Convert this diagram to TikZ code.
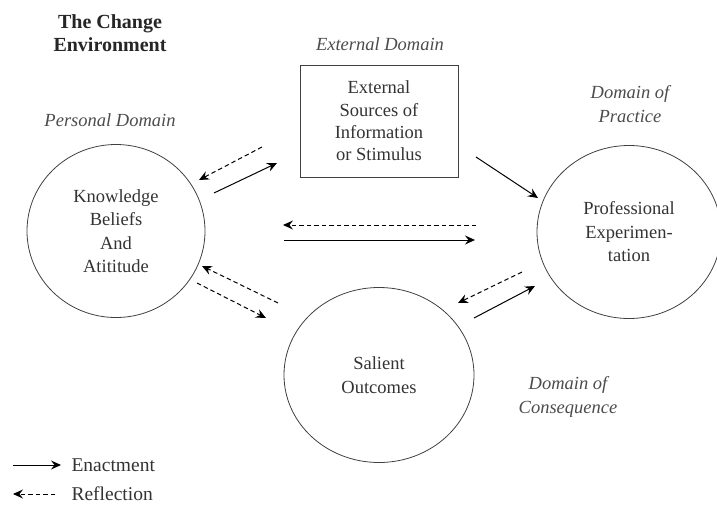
\documentclass[tikz,border=0pt]{standalone}
\usepackage{fontspec}
\setmainfont{Liberation Serif}
\usetikzlibrary{arrows.meta,shapes.geometric}
\tikzset{
  circ/.style={draw=black!75, ellipse, inner sep=0pt, line width=0.8pt, align=center, text=black!80, font=\fontsize{18.5}{23.5}\selectfont},
  ebox/.style={draw=black!75, rectangle, minimum width=158pt, minimum height=112pt, line width=0.8pt, align=center, text=black!80, font=\fontsize{18.5}{22.3}\selectfont},
  lbl/.style={font=\fontsize{18.5}{24}\selectfont\itshape, align=center, text=black!70},
  enact/.style={-{Stealth[length=10pt,width=9pt,inset=3.5pt]}, line width=1pt},
  reflect/.style={-{Stealth[length=10pt,width=9pt,inset=3.5pt]}, line width=1pt, dash pattern=on 4.5pt off 3pt}
}
\begin{document}
\begin{tikzpicture}[x=1pt,y=-1pt]
\useasboundingbox (0,0) rectangle (717,511);
\node[font=\fontsize{20}{23.5}\selectfont\bfseries, align=center, text=black!85] (title) at (110,33) {The Change\\Environment};
\node[lbl] (personal) at (110,120) {Personal Domain};
\node[lbl] (external) at (380,44) {External Domain};
\node[lbl] (practice) at (630,104) {Domain of\\Practice};
\node[lbl] (consequence) at (568,397) {Domain of\\Consequence};

\node[circ, minimum width=178pt, minimum height=173pt] (kba) at (116,231) {Knowledge\\Beliefs\\And\\Atititude};
\node[ebox] (src) at (379,121) {External\\Sources of\\Information\\or Stimulus};
\node[circ, minimum width=184pt, minimum height=173pt] (prof) at (629,232) {Professional\\Experimen-\\tation};
\node[circ, minimum width=190pt, minimum height=175pt] (sal) at (379,375) {Salient\\Outcomes};

\coordinate (a1s) at (214,193); \coordinate (a1e) at (277,163);
\coordinate (r1s) at (262,147); \coordinate (r1e) at (199,180);
\coordinate (a2s) at (476,157); \coordinate (a2e) at (538,198);
\coordinate (r3s) at (476,225); \coordinate (r3e) at (283,225);
\coordinate (a3s) at (284,240); \coordinate (a3e) at (475,240);
\coordinate (r4s) at (278,303); \coordinate (r4e) at (202,266);
\coordinate (r5s) at (197,283); \coordinate (r5e) at (266,318);
\coordinate (r6s) at (522,272); \coordinate (r6e) at (458,303);
\coordinate (a6s) at (474,318); \coordinate (a6e) at (535,286);

\draw[enact] (a1s) -- (a1e);
\draw[reflect] (r1s) -- (r1e);
\draw[enact] (a2s) -- (a2e);
\draw[reflect] (r3s) -- (r3e);
\draw[enact] (a3s) -- (a3e);
\draw[reflect] (r4s) -- (r4e);
\draw[reflect] (r5s) -- (r5e);
\draw[reflect] (r6s) -- (r6e);
\draw[enact] (a6s) -- (a6e);

\coordinate (l1s) at (13,465); \coordinate (l1e) at (61,465);
\coordinate (l2s) at (55,494); \coordinate (l2e) at (13,494);
\draw[enact] (l1s) -- (l1e);
\draw[reflect] (l2s) -- (l2e);
\node[anchor=west, font=\fontsize{19.5}{22}\selectfont, text=black!80] (en) at (68,465) {Enactment};
\node[anchor=west, font=\fontsize{19.5}{22}\selectfont, text=black!80] (re) at (68,494) {Reflection};
\end{tikzpicture}
\end{document}
